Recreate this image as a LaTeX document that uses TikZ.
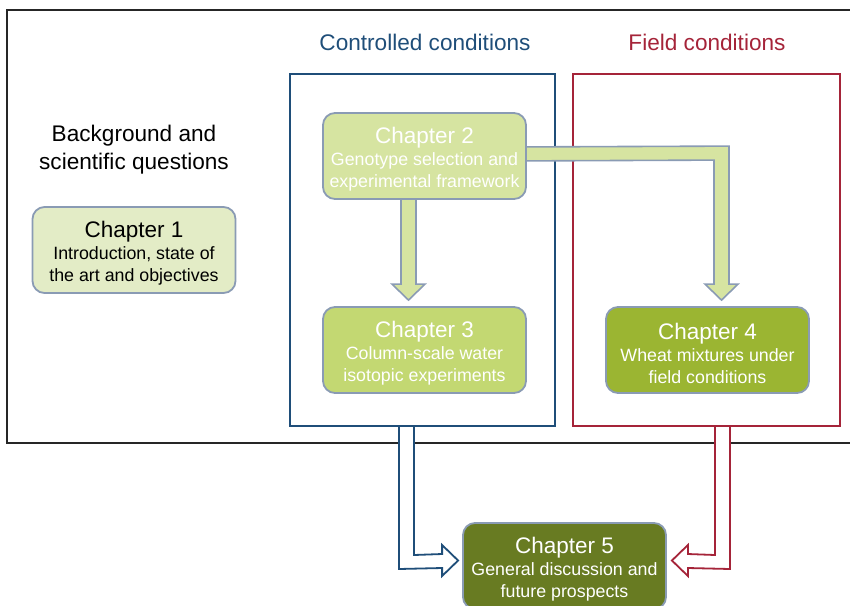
\documentclass[tikz,border=0pt]{standalone}
\usepackage{fontspec}
\setmainfont{Liberation Sans}
\usetikzlibrary{calc}
\definecolor{bord}{HTML}{8A9BB4}
\definecolor{cOne}{HTML}{E3ECC6}
\definecolor{cTwo}{HTML}{D6E4A1}
\definecolor{cThree}{HTML}{C3D872}
\definecolor{cFour}{HTML}{9BB532}
\definecolor{cFive}{HTML}{687B22}
\definecolor{ctrlblue}{HTML}{1F4E79}
\definecolor{fieldred}{HTML}{A52439}
\tikzset{
  chap/.style={draw=bord, line width=1.8pt, rounded corners=12pt, minimum width=203pt, minimum height=86pt, align=center, inner sep=0pt, font=\fontsize{17.8}{22}\selectfont},
  headtxt/.style={font=\fontsize{22.6}{28}\selectfont, align=center},
  blockarrow/.style={draw=bord, line width=1.6pt, fill=cTwo, line join=miter},
}
\newcommand{\chtitle}[1]{{\fontsize{22.5}{23}\selectfont\rule{0pt}{23.5pt}#1}}
\begin{document}
\begin{tikzpicture}[x=1pt, y=-1pt]
\useasboundingbox (0,0) rectangle (850,605);
% outer frame
\draw[line width=2pt, black!85] (7,10) rectangle (870,443);
% condition frames
\node[draw=ctrlblue, line width=2pt, minimum width=265pt, minimum height=352pt, inner sep=0pt] (ctrl) at (422.5,249.5) {};
\node[draw=fieldred, line width=2pt, minimum width=267pt, minimum height=352pt, inner sep=0pt] (field) at (706.5,249.5) {};
\node[headtxt, text=ctrlblue] (ctrlt) at (425,42) {Controlled conditions};
\node[headtxt, text=fieldred] (fieldt) at (707,42) {Field conditions};
\node[headtxt] (bg) at (134,149.5) {Background and\\scientific questions};
% chapter nodes
\node[chap, fill=cOne, text=black] (c1) at (134,250) {\chtitle{Chapter 1}\\Introduction, state of\\the art and objectives};
\coordinate (c2pos) at (424.5,156);
\node[chap, fill=cThree, text=white] (c3) at (424.5,350) {\chtitle{Chapter 3}\\Column-scale water\\isotopic experiments};
\node[chap, fill=cFour, text=white] (c4) at (707.5,350) {\chtitle{Chapter 4}\\Wheat mixtures under\\field conditions};
% arrow chapter 2 -> chapter 4 (behind chapter 2)
\coordinate (t4) at ($(c4.north)+(14,-6)$);
\draw[blockarrow] ($(c2pos)+(80,-9)$) -- ($(t4)+(7.5,-154)$) -- ($(t4)+(7.5,-16)$) -- ($(t4)+(16.5,-16)$) -- (t4) -- ($(t4)+(-16.5,-16)$) -- ($(t4)+(-7.5,-16)$) -- ($(t4)+(-7.5,-140)$) -- ($(c2pos)+(80,5)$) -- cycle;
% arrow chapter 2 -> chapter 3
\coordinate (t3) at ($(c3.north)+(-16,-6)$);
\draw[blockarrow] ($(t3)+(-7.5,-110)$) -- ($(t3)+(-7.5,-16)$) -- ($(t3)+(-16.5,-16)$) -- (t3) -- ($(t3)+(16.5,-16)$) -- ($(t3)+(7.5,-16)$) -- ($(t3)+(7.5,-110)$) -- cycle;
\node[chap, fill=cTwo, text=white] (c2) at (c2pos) {\chtitle{Chapter 2}\\Genotype selection and\\experimental framework};
% chapter 5
\node[chap, fill=cFive, text=white] (c5) at (564.5,566) {\chtitle{Chapter 5}\\General discussion and\\future prospects};
% blue outline arrow
\coordinate (sb) at (ctrl.south);
\coordinate (tb) at ($(c5.west)+(-4,-5.5)$);
\fill[white] ($(sb)+(-23.5,0.5)$) -- ($(sb)+(-23.5,142.5)$) -- ($(tb)+(-16,7.5)$) -- ($(tb)+(-16,15.5)$) -- (tb) -- ($(tb)+(-16,-15.5)$) -- ($(tb)+(-16,-6.5)$) -- ($(sb)+(-8.5,128.5)$) -- ($(sb)+(-8.5,0.5)$) -- cycle;
\draw[ctrlblue, line width=1.8pt, line join=miter] ($(sb)+(-23.5,0)$) -- ($(sb)+(-23.5,142.5)$) -- ($(tb)+(-16,7.5)$) -- ($(tb)+(-16,15.5)$) -- (tb) -- ($(tb)+(-16,-15.5)$) -- ($(tb)+(-16,-6.5)$) -- ($(sb)+(-8.5,128.5)$) -- ($(sb)+(-8.5,0)$);
% red outline arrow
\coordinate (sr) at (field.south);
\coordinate (tr) at ($(c5.east)+(5,-5.5)$);
\fill[white] ($(sr)+(23.5,0.5)$) -- ($(sr)+(23.5,142.5)$) -- ($(tr)+(16,7.5)$) -- ($(tr)+(16,15.5)$) -- (tr) -- ($(tr)+(16,-15.5)$) -- ($(tr)+(16,-6.5)$) -- ($(sr)+(8.5,128.5)$) -- ($(sr)+(8.5,0.5)$) -- cycle;
\draw[fieldred, line width=1.8pt, line join=miter] ($(sr)+(23.5,0)$) -- ($(sr)+(23.5,142.5)$) -- ($(tr)+(16,7.5)$) -- ($(tr)+(16,15.5)$) -- (tr) -- ($(tr)+(16,-15.5)$) -- ($(tr)+(16,-6.5)$) -- ($(sr)+(8.5,128.5)$) -- ($(sr)+(8.5,0)$);
\end{tikzpicture}
\end{document}
